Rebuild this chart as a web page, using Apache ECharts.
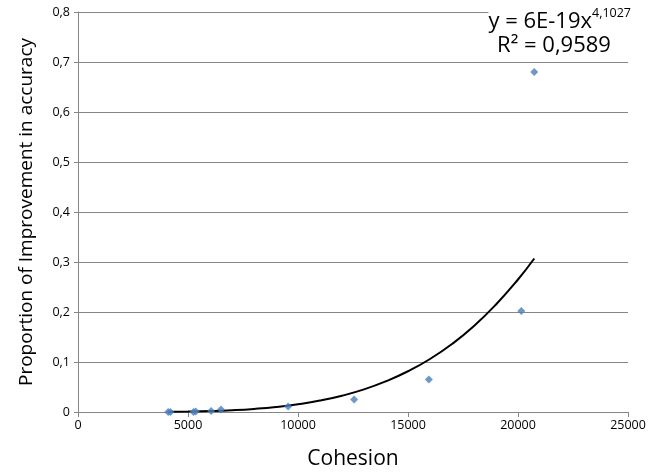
<!DOCTYPE html>
<html><head><meta charset="utf-8">
<script src="https://cdn.jsdelivr.net/npm/echarts@6/dist/echarts.min.js"></script>
<style>html,body{margin:0;padding:0;background:#fff}#c{width:662px;height:475px}</style>
</head><body><div id="c"></div>
<script>
const cohesion = [4100, 4200, 5250, 5350, 6050, 6500, 9550, 12550, 15950, 20150, 20740];
const improvement = [0.000, 0.000, 0.000, 0.001, 0.002, 0.005, 0.011, 0.025, 0.065, 0.202, 0.680];
const trendX = [4100, 5000, 6000, 7000, 8000, 9000, 10000, 11000, 12000, 13000, 14000, 15000, 16000, 17000, 18000, 19000, 20000, 20740];
const trendY = [0.0004, 0.0009, 0.0019, 0.0036, 0.0062, 0.0100, 0.0155, 0.0228, 0.0326, 0.0452, 0.0615, 0.0815, 0.106, 0.136, 0.172, 0.215, 0.265, 0.307];
const xTicks = [0, 5000, 10000, 15000, 20000, 25000];
const yTicks = [0, 0.1, 0.2, 0.3, 0.4, 0.5, 0.6, 0.7, 0.8];
const eqText = 'y = 6E-19x';
const eqExp = '4,1027';
const r2Text = 'R² = 0,9589';

const font = '"Open Sans", "Liberation Sans", sans-serif';
const chart = echarts.init(document.getElementById('c'), null, {renderer: 'canvas'});
chart.setOption({
  animation: false,
  backgroundColor: '#fff',
  grid: {left: 78, right: 34, top: 12, bottom: 63},
  xAxis: {
    type: 'value', min: xTicks[0], max: xTicks[xTicks.length - 1], interval: 5000,
    name: 'Cohesion', nameLocation: 'middle', nameGap: 37,
    nameTextStyle: {fontFamily: font, fontSize: 21, color: '#000'},
    axisLine: {show: true, lineStyle: {color: '#868686', width: 1}},
    axisTick: {show: true, length: 5, lineStyle: {color: '#868686'}},
    axisLabel: {fontFamily: font, fontSize: 12.5, color: '#000', margin: 7,
      formatter: v => String(v)},
    splitLine: {show: false}
  },
  yAxis: {
    type: 'value', min: yTicks[0], max: yTicks[yTicks.length - 1], interval: 0.1,
    name: 'Proportion of Improvement in accuracy', nameLocation: 'middle', nameGap: 42,
    nameTextStyle: {fontFamily: font, fontSize: 19, color: '#000'},
    axisLine: {show: true, lineStyle: {color: '#868686', width: 1}},
    axisTick: {show: true, length: 4, lineStyle: {color: '#868686'}},
    axisLabel: {fontFamily: font, fontSize: 12.5, color: '#000', margin: 8,
      formatter: v => (Math.round(v * 10) / 10).toString().replace('.', ',')},
    splitLine: {show: true, lineStyle: {color: '#868686', width: 1}}
  },
  series: [
    {
      type: 'line', data: trendX.map((x, i) => [x, trendY[i]]), smooth: true,
      showSymbol: false, symbol: 'none', lineStyle: {color: '#000', width: 2}, z: 2
    },
    {
      type: 'scatter', data: cohesion.map((x, i) => [x, improvement[i]]),
      symbol: 'diamond', symbolSize: 8, itemStyle: {color: '#4A7EBB'}, z: 3
    }
  ],
  graphic: [
    {
      type: 'text', x: 631, y: 3, z: 10,
      style: {
        text: '{a|' + eqText + '}{s|' + eqExp + '}',
        textAlign: 'right',
        backgroundColor: '#fff',
        rich: {
          a: {fontFamily: font, fontSize: 22, fill: '#000', lineHeight: 30, verticalAlign: 'bottom'},
          s: {fontFamily: font, fontSize: 12.5, fill: '#000', lineHeight: 30, verticalAlign: 'top', padding: [4, 0, 0, 0]}
        }
      }
    },
    {
      type: 'text', x: 554, y: 35, z: 10,
      style: {
        text: r2Text, textAlign: 'center', fontFamily: font, fontSize: 22, fill: '#000', backgroundColor: '#fff'
      }
    }
  ]
});
</script></body></html>
